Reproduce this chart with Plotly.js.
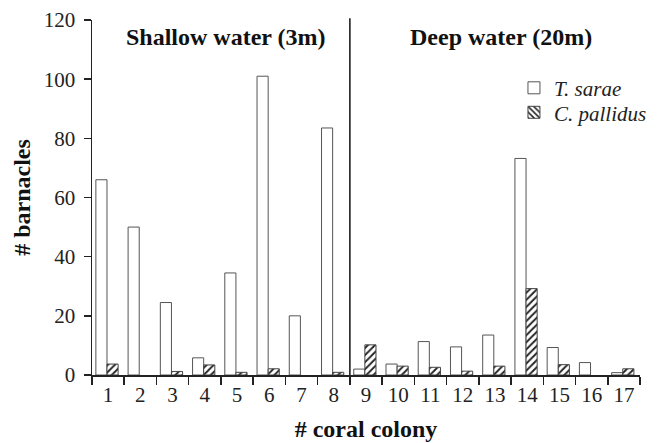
<!DOCTYPE html>
<html>
<head>
<meta charset="utf-8">
<script src="https://cdn.plot.ly/plotly-3.0.1.min.js"></script>
<style>html,body{margin:0;padding:0;background:#fff;}#chart{width:664px;height:443px;}</style>
</head>
<body>
<div id="chart"></div>
<script>
var colonies = ["1","2","3","4","5","6","7","8","9","10","11","12","13","14","15","16","17"];
var tSarae    = [66, 50, 24.5, 5.8, 34.5, 101, 20, 83.5, 2, 3.7, 11.3, 9.5, 13.5, 73.2, 9.3, 4.2, 0.8];
var cPallidus = [3.7, 0, 1.2, 3.4, 0.9, 2.1, 0, 0.9, 10.2, 3.0, 2.6, 1.3, 3.0, 29.2, 3.5, 0, 2.1];
var sectionLabels = ["Shallow water (3m)", "Deep water (20m)"];
var seriesNames = ["T. sarae", "C. pallidus"];

var serif = "Liberation Serif";

function hideZero(arr) { return arr.map(function (v) { return v === 0 ? null : v; }); }

var whiteMarker = {color: "#ffffff", line: {color: "#555555", width: 1}};
var hatchMarker = function (shape) {
  return {color: "#ffffff", line: {color: "#444444", width: 1},
          pattern: {shape: shape, fgcolor: "#222222", bgcolor: "#ffffff", size: 5, solidity: 0.38}};
};

var traces = [
  {
    type: "bar", name: seriesNames[0], x: colonies, y: hideZero(tSarae),
    width: 0.345, offset: -0.38, marker: whiteMarker, showlegend: false
  },
  {
    type: "bar", name: seriesNames[1], x: colonies, y: hideZero(cPallidus),
    width: 0.345, offset: -0.035, marker: hatchMarker("/"), showlegend: false
  },
  // legend entries (reference legend swatch uses the opposite hatch direction)
  {
    type: "bar", name: seriesNames[0], x: [null], y: [null],
    marker: whiteMarker, showlegend: true, legend: "legend"
  },
  {
    type: "bar", name: seriesNames[1], x: [null], y: [null],
    marker: hatchMarker("\\"), showlegend: true, legend: "legend2"
  }
];

var legendFont = {family: serif, size: 21, color: "#222", style: "italic"};

var layout = {
  width: 664, height: 443,
  margin: {l: 92, r: 14, t: 20, b: 68},
  paper_bgcolor: "#ffffff", plot_bgcolor: "#ffffff",
  barmode: "overlay",
  showlegend: true,
  legend: {
    x: 0.77, y: 0.808, xanchor: "left", yanchor: "middle",
    font: legendFont, bgcolor: "rgba(0,0,0,0)", borderwidth: 0, itemwidth: 30
  },
  legend2: {
    x: 0.77, y: 0.739, xanchor: "left", yanchor: "middle",
    font: legendFont, bgcolor: "rgba(0,0,0,0)", borderwidth: 0, itemwidth: 30
  },
  font: {family: serif, color: "#222"},
  xaxis: {
    type: "category",
    range: [-0.5, 16.5],
    tickson: "boundaries",
    ticks: "outside", ticklen: 8, tickwidth: 1.5, tickcolor: "#222",
    showline: true, linecolor: "#222", linewidth: 1.5,
    showgrid: false, zeroline: false,
    tickfont: {family: serif, size: 21, color: "#222"},
    title: {text: "# coral colony", font: {family: serif, size: 24, color: "#111", weight: "bold"}, standoff: 14}
  },
  yaxis: {
    range: [0, 120],
    tickvals: [0, 20, 40, 60, 80, 100, 120],
    ticks: "outside", ticklen: 7, tickwidth: 1.5, tickcolor: "#222",
    ticklabelstandoff: 4,
    showline: true, linecolor: "#222", linewidth: 1.5,
    showgrid: false, zeroline: false,
    tickfont: {family: serif, size: 21, color: "#222"},
    title: {text: "# barnacles", font: {family: serif, size: 24, color: "#111", weight: "bold"}, standoff: 6}
  },
  shapes: [
    {type: "line", xref: "x", yref: "paper", x0: 7.5, x1: 7.5, y0: 0, y1: 1.005,
     line: {color: "#111", width: 1.5}}
  ],
  annotations: [
    {text: sectionLabels[0], xref: "x", yref: "paper", x: 3.66, y: 0.952, showarrow: false,
     xanchor: "center", yanchor: "middle", font: {family: serif, size: 24, color: "#111", weight: "bold"}},
    {text: sectionLabels[1], xref: "x", yref: "paper", x: 12.18, y: 0.952, showarrow: false,
     xanchor: "center", yanchor: "middle", font: {family: serif, size: 24, color: "#111", weight: "bold"}}
  ]
};

Plotly.newPlot("chart", traces, layout, {staticPlot: true, displayModeBar: false});
</script>
</body>
</html>
